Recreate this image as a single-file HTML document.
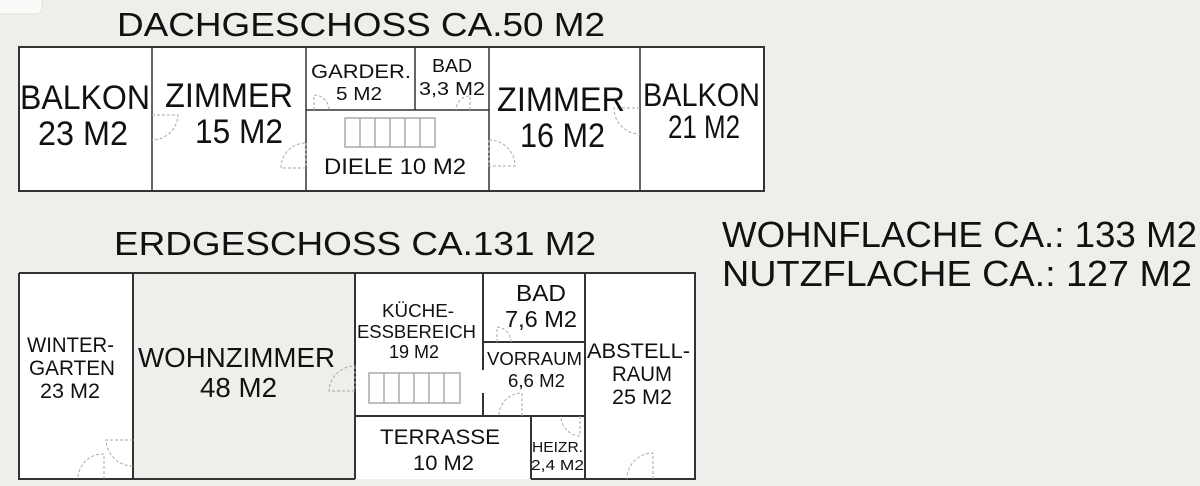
<!DOCTYPE html>
<html><head><meta charset="utf-8"><style>
html,body{margin:0;padding:0;background:#efeeea;}
svg{display:block;}
text{font-family:"Liberation Sans",sans-serif;fill:#111;}
</style></head><body>
<svg width="1200" height="486" viewBox="0 0 1200 486" xmlns="http://www.w3.org/2000/svg">
<rect width="1200" height="486" fill="#efeeea"/>
<rect x="-10" y="-10" width="52" height="24" rx="6" fill="#fafaf8" stroke="#e0dfdb"/>
<text x="117" y="36" font-size="33" textLength="488" lengthAdjust="spacingAndGlyphs">DACHGESCHOSS CA.50 M2</text>
<text x="114" y="255" font-size="33" textLength="482" lengthAdjust="spacingAndGlyphs">ERDGESCHOSS CA.131 M2</text>
<text x="722" y="247" font-size="36" textLength="475" lengthAdjust="spacingAndGlyphs">WOHNFLACHE CA.: 133 M2</text>
<text x="722" y="286" font-size="36" textLength="470" lengthAdjust="spacingAndGlyphs">NUTZFLACHE CA.:  127 M2</text>

<g stroke="#333" stroke-width="2" fill="#fff">
<rect x="19" y="47" width="745" height="144"/>
</g>
<g stroke="#333" stroke-width="1.5">
<line x1="152" y1="47" x2="152" y2="191"/>
<line x1="306" y1="47" x2="306" y2="191"/>
<line x1="415" y1="47" x2="415" y2="110"/>
<line x1="489" y1="47" x2="489" y2="191"/>
<line x1="640" y1="47" x2="640" y2="191"/>
<line x1="306" y1="110" x2="489" y2="110"/>
</g>
<g stroke="#aaa" stroke-width="1" fill="none" stroke-dasharray="3,2">
<path d="M152 115 L178 115 A26 26 0 0 1 152 140"/>
<path d="M306 143 L306 168 L281 168 A25 25 0 0 1 306 143"/>
<path d="M489 140 L489 166 L515 166 A26 26 0 0 0 489 140"/>
<path d="M640 108 L614 108 A26 26 0 0 0 640 134"/>
<path d="M314 110 L314 95 A15 15 0 0 1 329 110"/>
<path d="M470 110 L470 96 A14 14 0 0 0 456 110"/>
</g>
<g stroke="#aaa" stroke-width="1.5" fill="none">
<rect x="345" y="118" width="90" height="29"/>
<line x1="360" y1="118" x2="360" y2="147"/><line x1="375" y1="118" x2="375" y2="147"/>
<line x1="390" y1="118" x2="390" y2="147"/><line x1="405" y1="118" x2="405" y2="147"/>
<line x1="420" y1="118" x2="420" y2="147"/>
</g>
<g lengthAdjust="spacingAndGlyphs">
<text x="20" y="109" font-size="34" textLength="130" lengthAdjust="spacingAndGlyphs">BALKON</text>
<text x="38" y="145" font-size="34" textLength="90" lengthAdjust="spacingAndGlyphs">23 M2</text>
<text x="165" y="107" font-size="34" textLength="128" lengthAdjust="spacingAndGlyphs">ZIMMER</text>
<text x="195" y="143" font-size="34" textLength="88" lengthAdjust="spacingAndGlyphs">15 M2</text>
<text x="311" y="78" font-size="19" textLength="100" lengthAdjust="spacingAndGlyphs">GARDER.</text>
<text x="336" y="100" font-size="18" textLength="46" lengthAdjust="spacingAndGlyphs">5 M2</text>
<text x="432" y="72" font-size="18" textLength="40" lengthAdjust="spacingAndGlyphs">BAD</text>
<text x="419" y="95" font-size="18" textLength="66" lengthAdjust="spacingAndGlyphs">3,3 M2</text>
<text x="324" y="174" font-size="22" textLength="142" lengthAdjust="spacingAndGlyphs">DIELE 10 M2</text>
<text x="497" y="111" font-size="34" textLength="128" lengthAdjust="spacingAndGlyphs">ZIMMER</text>
<text x="520" y="147" font-size="34" textLength="85" lengthAdjust="spacingAndGlyphs">16 M2</text>
<text x="643" y="106" font-size="32" textLength="117" lengthAdjust="spacingAndGlyphs">BALKON</text>
<text x="668" y="138" font-size="32" textLength="72" lengthAdjust="spacingAndGlyphs">21 M2</text>
</g>

<rect x="19" y="273" width="676" height="206" fill="#fff" stroke="none"/>
<rect x="133" y="273" width="222" height="206" fill="#efeeea"/>
<g stroke="#333" stroke-width="2" fill="none">
<path d="M19 273 L695 273 L695 479 L531 479 M355 479 L19 479 L19 273"/>
<line x1="133" y1="273" x2="133" y2="479"/>
<line x1="355" y1="273" x2="355" y2="479"/>
<line x1="483" y1="273" x2="483" y2="370"/>
<line x1="483" y1="393" x2="483" y2="416"/>
<line x1="585" y1="273" x2="585" y2="479"/>
<line x1="483" y1="342" x2="585" y2="342"/>
<line x1="355" y1="416" x2="585" y2="416"/>
<line x1="531" y1="416" x2="531" y2="479"/>
</g>
<g stroke="#aaa" stroke-width="1" fill="none" stroke-dasharray="3,2">
<path d="M133 440 L106 440 A27 27 0 0 0 133 466"/>
<path d="M104 479 L104 454 A25 25 0 0 0 78 479"/>
<path d="M355 366 L355 391 L329 391 A26 26 0 0 1 355 366"/>
<path d="M497 342 L497 327 A15 15 0 0 1 511 342"/>
<path d="M522 416 L522 393 A23 23 0 0 0 499 416"/>
<path d="M580 416 L580 436 A20 20 0 0 1 561 416"/>
<path d="M653 479 L653 453 A26 26 0 0 0 627 479"/>
</g>
<g stroke="#aaa" stroke-width="1.5" fill="none">
<rect x="369" y="373" width="91" height="30"/>
<line x1="384" y1="373" x2="384" y2="403"/><line x1="399" y1="373" x2="399" y2="403"/>
<line x1="414" y1="373" x2="414" y2="403"/><line x1="429" y1="373" x2="429" y2="403"/>
<line x1="444" y1="373" x2="444" y2="403"/>
</g>
<text x="27" y="352" font-size="21" textLength="87" lengthAdjust="spacingAndGlyphs">WINTER-</text>
<text x="29" y="375" font-size="21" textLength="86" lengthAdjust="spacingAndGlyphs">GARTEN</text>
<text x="40" y="398" font-size="21" textLength="60" lengthAdjust="spacingAndGlyphs">23 M2</text>
<text x="138" y="367" font-size="28" textLength="197" lengthAdjust="spacingAndGlyphs">WOHNZIMMER</text>
<text x="200" y="397" font-size="28" textLength="77" lengthAdjust="spacingAndGlyphs">48 M2</text>
<text x="382" y="317" font-size="18" textLength="72" lengthAdjust="spacingAndGlyphs">KÜCHE-</text>
<text x="357" y="338" font-size="18" textLength="119" lengthAdjust="spacingAndGlyphs">ESSBEREICH</text>
<text x="389" y="358" font-size="18" textLength="50" lengthAdjust="spacingAndGlyphs">19 M2</text>
<text x="516" y="301" font-size="23" textLength="50" lengthAdjust="spacingAndGlyphs">BAD</text>
<text x="505" y="327" font-size="23" textLength="72" lengthAdjust="spacingAndGlyphs">7,6 M2</text>
<text x="487" y="365" font-size="18" textLength="95" lengthAdjust="spacingAndGlyphs">VORRAUM</text>
<text x="508" y="387" font-size="18" textLength="57" lengthAdjust="spacingAndGlyphs">6,6 M2</text>
<text x="587" y="358" font-size="21" textLength="103" lengthAdjust="spacingAndGlyphs">ABSTELL-</text>
<text x="612" y="381" font-size="21" textLength="60" lengthAdjust="spacingAndGlyphs">RAUM</text>
<text x="612" y="404" font-size="21" textLength="60" lengthAdjust="spacingAndGlyphs">25 M2</text>
<text x="380" y="444" font-size="21" textLength="120" lengthAdjust="spacingAndGlyphs">TERRASSE</text>
<text x="413" y="470" font-size="21" textLength="61" lengthAdjust="spacingAndGlyphs">10 M2</text>
<text x="532" y="452" font-size="15" textLength="51" lengthAdjust="spacingAndGlyphs">HEIZR.</text>
<text x="531" y="470" font-size="15" textLength="53" lengthAdjust="spacingAndGlyphs">2,4 M2</text>
</svg>
</body></html>
